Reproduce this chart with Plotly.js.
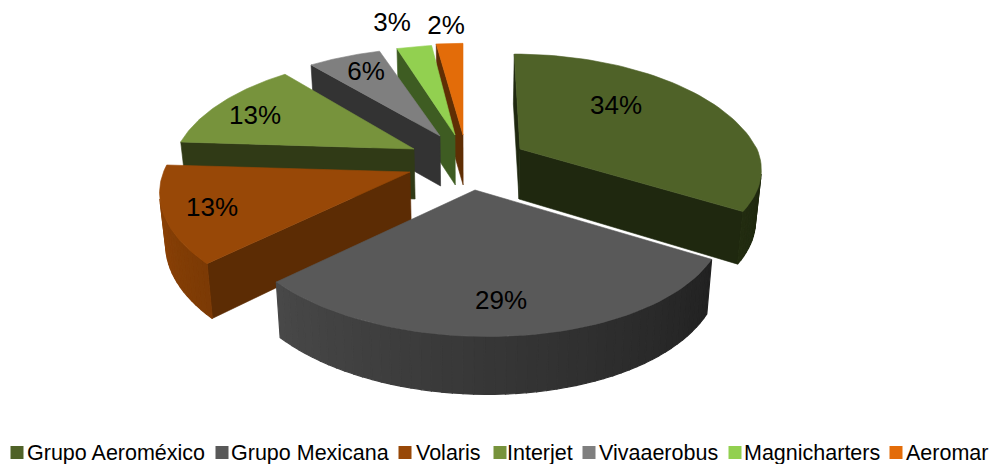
<!DOCTYPE html>
<html><head><meta charset="utf-8">
<script src="https://cdn.plot.ly/plotly-3.0.1.min.js"></script>
<style>html,body{margin:0;padding:0;background:#fff;overflow:hidden}#c{width:994px;height:464px}</style>
</head><body><div id="c"></div>
<script>
// ---- data ----
const categories = ['Grupo Aeroméxico','Grupo Mexicana','Volaris','Interjet','Vivaaerobus','Magnicharters','Aeromar'];
const shares = [34,29,13,13,6,3,2];

// ---- styling and layout constants ----
const topColors = ['#4F6228','#595959','#984807','#77933C','#7F7F7F','#92D050','#E36C09'];
const cutWallColors = ['#1F280F','#2A2A2A','#5C2C04','#303A16','#333333','#3E5C22','#5F2E04'];
const arcWallFrom = ['#222C10','#484848','#8A4106','#303A16','#333333','#3E5C22','#5F2E04'];
const arcWallTo = ['#1F280F','#212121','#7C3A05','#303A16','#333333','#3E5C22','#5F2E04'];
const apexX = [520,475,410,414,440,455,463];
const apexY = [149,190,172,149,136,135,135];
const paintOrder = [6,5,4,3,2,0,1];
const labelX = [616,501,212,255,366,392,446];
const labelY = [107,302,209,117,73,24,27];
const swatchX = [17,222,405,500,589,735,896];
const legendTextX = [27,231,416,507,599,744,906];
const legendY = 454.5;
const widthScale = [1,1.015,1.04,1,1,0.96,1.1];
const depthScale = [116,114,113.6,113.6,108,110,112];
const frontDepthFactor = [0.92,1,1,1,1,1,1];
const frontPersp = [0.16,0.222,0.222,0.222,0.222,0.222,0.222];
const shear = [-7,-10,-11,0,0,0,0];
const radX = 237, persp = 0.222, vanishX = 470, inward = 0.98;

// ---- projection of the pie's geometry, driven by the shares ----
const rad = d => d*Math.PI/180;
function rim(i, deg){
  const X = Math.sin(rad(deg)), Y = Math.cos(rad(deg));
  const f = 1/(1+(Y<0?frontPersp[i]:persp)*Y);
  const ky = depthScale[i]*(Y<0?frontDepthFactor[i]:1);
  return [apexX[i]+(radX*widthScale[i]*X+shear[i]*Y)*f, apexY[i]-ky*Y*f];
}
function lower(p){
  const h = 50 + Math.max(0,p[1]-150)*0.042;
  return [vanishX+(p[0]-vanishX)*inward, p[1]+h];
}
function poly(pts, color, name, width){
  return {type:'scatter',mode:'lines',x:pts.map(p=>p[0]).concat(pts[0][0]),y:pts.map(p=>p[1]).concat(pts[0][1]),
    fill:'toself',fillcolor:color,line:{color:color,width:width===undefined?0.6:width},
    name:name,hoverinfo:'name',showlegend:false};
}
function mix(a,b,t){
  const c=s=>[1,3,5].map(k=>parseInt(s.substr(k,2),16));
  const A=c(a),B=c(b);
  return 'rgb('+A.map((v,k)=>Math.round(v+(B[k]-v)*t)).join(',')+')';
}
const total = shares.reduce((a,b)=>a+b,0);
const starts = []; let run = 0;
shares.forEach(v=>{starts.push(run/total*360); run+=v;});

const traces = [];
paintOrder.forEach(i=>{
  const a = starts[i], b = a+shares[i]/total*360, name = categories[i];
  const apex = [apexX[i],apexY[i]];
  // radial cut walls
  if (Math.sin(rad(a)) <= 1e-9 ){
    const e = rim(i,a);
    traces.push(poly([apex,lower(apex),lower(e),e],cutWallColors[i],name));
  }
  if (Math.sin(rad(b)) > 1e-9){
    const e = rim(i,b);
    traces.push(poly([apex,lower(apex),lower(e),e],cutWallColors[i],name));
  }
  // outer curved wall, front-facing part only
  const lo = Math.max(a,103), hi = Math.min(b,257);
  if (hi > lo){
    const strips = Math.max(1,Math.round((hi-lo)/2));
    for (let s=0;s<strips;s++){
      const d0 = lo+(hi-lo)*s/strips, d1 = lo+(hi-lo)*(s+1)/strips;
      const mid = Array.from({length:3},(_,k)=>rim(i,d0+(d1-d0)*k/2));
      const col = mix(arcWallTo[i],arcWallFrom[i],(s+0.5)/strips);
      traces.push(poly(mid.concat(mid.slice().reverse().map(lower)),col,name,1.2));
    }
  }
  // top face
  const top = [apex];
  for (let k=0;k<=60;k++) top.push(rim(i,a+(b-a)*k/60));
  traces.push(poly(top,topColors[i],name));
});

// percentage labels
traces.push({type:'scatter',mode:'text',x:labelX,y:labelY,text:shares.map(v=>v+'%'),
  textposition:'middle center',textfont:{family:'"Liberation Sans",Arial,sans-serif',size:26,color:'#000'},
  hoverinfo:'skip',showlegend:false});
// legend row
traces.push({type:'scatter',mode:'markers',x:swatchX,y:swatchX.map(()=>452.5),
  marker:{symbol:'square',size:13,color:topColors,line:{width:0}},hoverinfo:'skip',showlegend:false});
traces.push({type:'scatter',mode:'text',x:legendTextX,y:legendTextX.map(()=>legendY),text:categories,
  textposition:'middle right',textfont:{family:'"Liberation Sans",Arial,sans-serif',size:21.5,color:'#000'},
  hoverinfo:'skip',showlegend:false});

Plotly.newPlot('c',traces,{
  width:994,height:464,margin:{l:0,r:0,t:0,b:0},paper_bgcolor:'#fff',plot_bgcolor:'#fff',showlegend:false,
  xaxis:{range:[0,994],visible:false,fixedrange:true},
  yaxis:{range:[464,0],visible:false,fixedrange:true}
},{displayModeBar:false,staticPlot:true});
</script></body></html>
